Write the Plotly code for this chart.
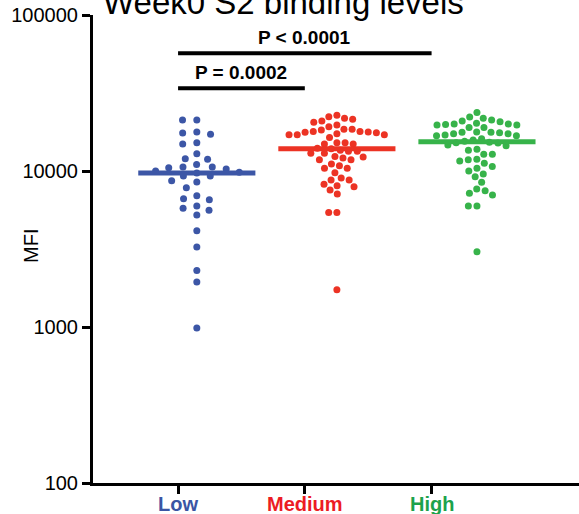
import numpy as np
import plotly.graph_objects as go

# ---------------- data ----------------
categories = ["Low", "Medium", "High"]

low = [21200, 21200, 17500, 17200, 17800, 15200, 14900, 12900, 11900, 12000,
       10600, 10000, 11000, 10500, 10600, 10300, 9800, 9300, 9700, 9300,
       8670, 8490, 7810, 6950, 6640, 6550, 5770, 5970, 5600, 5220,
       4140, 3260, 2300, 1940, 986]

medium = [22300, 21800, 22800, 21500, 20900, 20500, 19700,
          18500, 17900, 18300, 19200, 18500, 17900, 17800, 17700,
          17100, 17600, 16400, 17300, 17100, 17100,
          15200, 14900, 15200, 14900,
          13000, 13400, 13900, 14000, 13600, 13400, 13000,
          11800, 12300, 12400, 11800, 12100,
          10400, 11100, 10400, 10800, 9750,
          9010, 8750, 8750, 8220, 7930, 8050, 7550, 7120,
          5410, 5410, 1730]

high = [23700, 22200, 21800, 21200, 20900,
        20200, 20000, 20000, 19700, 19700, 20700, 19900, 19000, 19000,
        17800, 17300, 17700, 17600, 17000, 17300, 17700, 16800,
        16100, 16800, 14500, 15200, 14700, 15800, 15100, 15300, 15500,
        13600, 12800, 12800, 13800,
        11900, 11800, 11200, 11600,
        10700, 10000, 10400, 9570, 9190, 8480,
        7480, 7670, 7020, 7190, 5970, 5970, 3040]

p_labels = ["P = 0.0002", "P < 0.0001"]
p_pairs = [(0, 1), (0, 2)]
p_levels = [33900, 56800]

y_ticks = [100, 1000, 10000, 100000]
title_text = "Week0 S2 binding levels"
y_title = "MFI"

# ---------------- style / layout ----------------
dot_colors = ["#3c56a6", "#ec3324", "#37b34a"]
label_colors = ["#3a55a4", "#ec1c24", "#1ca24b"]
FONT = "Arial, Liberation Sans, sans-serif"

W, H = 579, 514
ML, MR, MT, MB = 93, 0, 15, 31
x_range = [0.329, 4.163]
tick_pos = [1, 2, 3]
group_centers = [1.148, 2.253, 3.358]
median_half = 0.462
swarm_dx = [14.3, 8.2, 8.6]   # horizontal spacing (px) per group
swarm_dy = 8.3                # vertical spacing (px)

PW = W - ML - MR
PH = H - MT - MB
px_per_x = PW / (x_range[1] - x_range[0])
px_per_dec = PH / 3.0


def swarm(vals, Dx, Dy):
    ys = np.log10(np.asarray(vals, float)) * px_per_dec
    order = np.argsort(-ys)
    placed = []
    offs = np.zeros(len(ys))
    for i in order:
        y = ys[i]
        cands = [0.0]
        for (px, py) in placed:
            dy = y - py
            if abs(dy) < Dy:
                h = Dx * np.sqrt(1 - (dy / Dy) ** 2)
                cands += [px + h, px - h]
        cands = sorted(cands, key=lambda c: (round(abs(c), 6), c))
        for c in cands:
            ok = all(((c - px) / Dx) ** 2 + ((y - py) / Dy) ** 2 >= 1 - 1e-6
                     for (px, py) in placed)
            if ok:
                offs[i] = c
                placed.append((c, y))
                break
    return offs / px_per_x


fig = go.Figure()
groups = [low, medium, high]
for gi, vals in enumerate(groups):
    offs = swarm(vals, swarm_dx[gi], swarm_dy)
    fig.add_trace(go.Scatter(
        x=group_centers[gi] + offs, y=vals, mode="markers",
        marker=dict(size=7, color=dot_colors[gi], line=dict(width=0)),
        hoverinfo="y", showlegend=False, cliponaxis=False))

for gi, vals in enumerate(groups):
    med = float(np.median(vals))
    fig.add_trace(go.Scatter(
        x=[group_centers[gi] - median_half, group_centers[gi] + median_half],
        y=[med, med], mode="lines",
        line=dict(color=dot_colors[gi], width=5), showlegend=False,
        hoverinfo="skip", cliponaxis=False))

annotations = []
for (a, b), lvl, lab in zip(p_pairs, p_levels, p_labels):
    fig.add_trace(go.Scatter(
        x=[tick_pos[a], tick_pos[b]], y=[lvl, lvl], mode="lines",
        line=dict(color="black", width=4), showlegend=False, hoverinfo="skip"))
    annotations.append(dict(
        x=(tick_pos[a] + tick_pos[b]) / 2, y=np.log10(lvl), xref="x", yref="y",
        text="<b>%s</b>" % lab, showarrow=False, yanchor="bottom", yshift=3,
        font=dict(family=FONT, size=19, color="black")))

# chart title (cut at the top edge as in the reference)
annotations.append(dict(
    x=(283 - ML) / PW, y=(H - MB - 2) / PH,
    xref="paper", yref="paper", text=title_text, showarrow=False,
    yanchor="middle", xanchor="center",
    font=dict(family=FONT, size=33, color="black")))

# y-axis title
annotations.append(dict(
    x=(31 - ML) / PW, y=(H - MB - 246) / PH, xref="paper", yref="paper",
    text=y_title, showarrow=False, textangle=-90,
    xanchor="center", yanchor="middle",
    font=dict(family=FONT, size=20, color="black")))

# category labels (coloured, bold) under the ticks
for t, c, pos in zip(categories, label_colors, tick_pos):
    annotations.append(dict(
        x=pos, y=-20.5 / PH, xref="x", yref="paper", text="<b>%s</b>" % t,
        showarrow=False, xanchor="center", yanchor="middle",
        font=dict(family=FONT, size=20, color=c)))

fig.update_layout(
    width=W, height=H,
    margin=dict(l=ML, r=MR, t=MT, b=MB, pad=0),
    paper_bgcolor="white", plot_bgcolor="white",
    font=dict(family=FONT, size=20, color="black"),
    showlegend=False,
    annotations=annotations,
    xaxis=dict(range=x_range, tickmode="array", tickvals=tick_pos,
               showticklabels=False,
               showline=True, linecolor="black", linewidth=3, ticks="outside",
               ticklen=8, tickwidth=3, tickcolor="black", showgrid=False,
               zeroline=False, automargin=False),
    yaxis=dict(type="log", range=[2, 5], tickmode="array", tickvals=y_ticks,
               ticktext=[str(v) for v in y_ticks],
               showline=True, linecolor="black", linewidth=3, ticks="outside",
               ticklen=8, tickwidth=3, tickcolor="black", showgrid=False,
               zeroline=False, automargin=False, tickfont=dict(family=FONT, size=20)),
)

fig.write_html("out.html")
